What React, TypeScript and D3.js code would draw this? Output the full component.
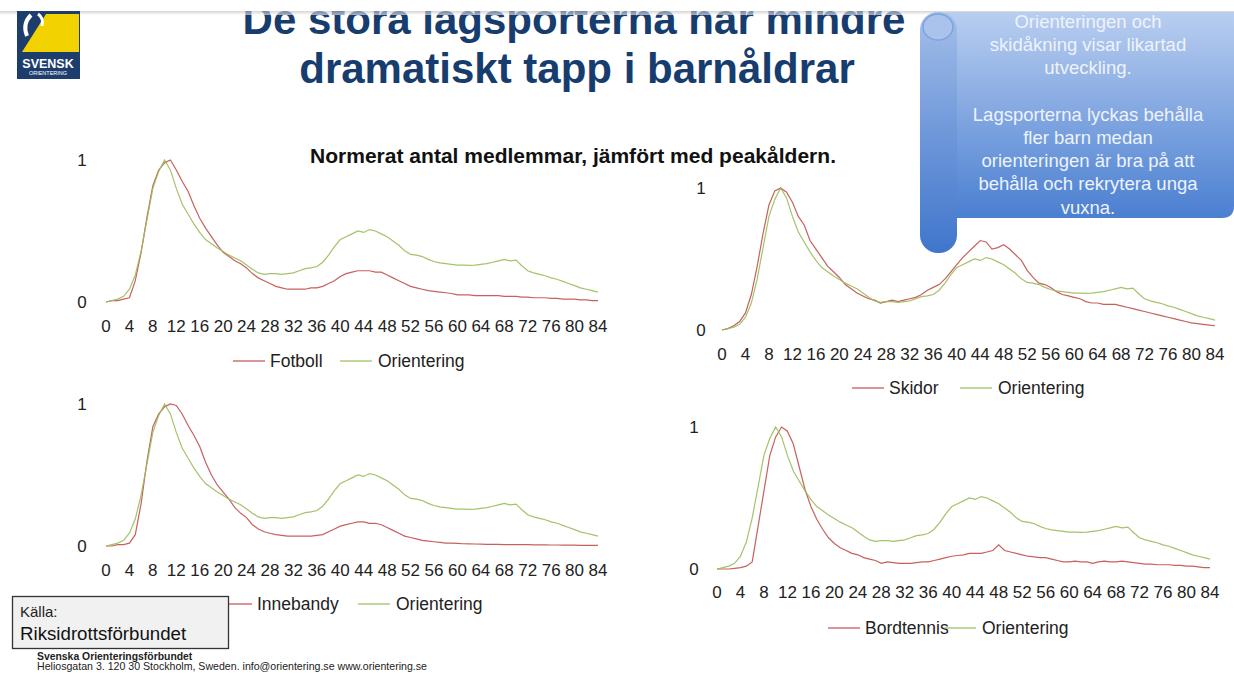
import React from 'react';
import * as d3 from 'd3';

// ages 0..84, one value per year
const ages = d3.range(0, 85);
const tickLabels = [0, 4, 8, 12, 16, 20, 24, 28, 32, 36, 40, 44, 48, 52, 56, 60, 64, 68, 72, 76, 80, 84];
const yTicks = [0, 1];

const orientering = [
  0.0, 0.01, 0.02, 0.04, 0.09, 0.19, 0.36, 0.58, 0.8, 0.92,
  1.0, 0.93, 0.8, 0.69, 0.62, 0.55, 0.49, 0.44, 0.41, 0.38,
  0.355, 0.33, 0.31, 0.29, 0.26, 0.23, 0.205, 0.195, 0.2, 0.2,
  0.195, 0.2, 0.205, 0.22, 0.235, 0.24, 0.25, 0.28, 0.33, 0.39,
  0.44, 0.46, 0.48, 0.5, 0.49, 0.51, 0.5, 0.48, 0.46, 0.43,
  0.4, 0.36, 0.335, 0.33, 0.32, 0.3, 0.285, 0.275, 0.27, 0.265,
  0.26, 0.26, 0.258, 0.26, 0.265, 0.27, 0.28, 0.29, 0.3, 0.29,
  0.295, 0.255, 0.22, 0.205, 0.195, 0.185, 0.17, 0.16, 0.145, 0.13,
  0.115, 0.1, 0.09, 0.08, 0.07,
];

const fotboll = [
  0.0, 0.01, 0.01, 0.02, 0.03, 0.15, 0.35, 0.6, 0.82, 0.93,
  0.98, 1.0, 0.93, 0.85, 0.78, 0.68, 0.59, 0.52, 0.46, 0.4,
  0.35, 0.32, 0.29, 0.27, 0.24, 0.2, 0.17, 0.15, 0.13, 0.11,
  0.1, 0.09, 0.09, 0.09, 0.09, 0.1, 0.1, 0.11, 0.13, 0.15,
  0.18, 0.2, 0.21, 0.22, 0.22, 0.22, 0.21, 0.21, 0.19, 0.17,
  0.15, 0.13, 0.11, 0.1, 0.09, 0.08, 0.075, 0.07, 0.065, 0.06,
  0.05, 0.05, 0.05, 0.045, 0.045, 0.045, 0.045, 0.045, 0.04, 0.04,
  0.04, 0.035, 0.035, 0.03, 0.03, 0.03, 0.025, 0.025, 0.02, 0.02,
  0.02, 0.015, 0.015, 0.01, 0.01,
];

const skidor = [
  0.0, 0.01, 0.03, 0.06, 0.12, 0.25, 0.45, 0.68, 0.88, 0.98,
  1.0, 0.97, 0.9, 0.8, 0.74, 0.63, 0.57, 0.51, 0.45, 0.41,
  0.37, 0.32, 0.29, 0.26, 0.24, 0.22, 0.21, 0.19, 0.2, 0.21,
  0.2, 0.21, 0.22, 0.23, 0.25, 0.28, 0.3, 0.32, 0.36, 0.41,
  0.46, 0.51, 0.55, 0.59, 0.63, 0.62, 0.57, 0.58, 0.6, 0.57,
  0.53, 0.49, 0.42, 0.37, 0.33, 0.32, 0.3, 0.27, 0.25, 0.24,
  0.23, 0.22, 0.2, 0.19, 0.19, 0.18, 0.18, 0.18, 0.17, 0.16,
  0.15, 0.14, 0.13, 0.12, 0.11, 0.1, 0.09, 0.08, 0.07, 0.06,
  0.05, 0.045, 0.04, 0.035, 0.03,
];

const innebandy = [
  0.0, 0.0, 0.01, 0.01, 0.02, 0.08, 0.3, 0.6, 0.84, 0.93,
  0.98, 1.0, 0.99, 0.93, 0.85, 0.78, 0.7, 0.59, 0.5, 0.43,
  0.38, 0.33, 0.27, 0.23, 0.2, 0.15, 0.12, 0.1, 0.09, 0.08,
  0.075, 0.07, 0.07, 0.07, 0.07, 0.07, 0.075, 0.08, 0.1, 0.12,
  0.14, 0.15, 0.16, 0.17, 0.17, 0.16, 0.16, 0.15, 0.13, 0.11,
  0.09, 0.07, 0.06, 0.05, 0.04, 0.035, 0.03, 0.025, 0.02, 0.02,
  0.018, 0.016, 0.015, 0.014, 0.013, 0.012, 0.012, 0.011, 0.01, 0.01,
  0.01, 0.009, 0.009, 0.008, 0.008, 0.008, 0.007, 0.007, 0.006, 0.006,
  0.006, 0.005, 0.005, 0.005, 0.005,
];

const bordtennis = [
  0.0, 0.0, 0.0, 0.005, 0.01, 0.02, 0.05, 0.3, 0.55, 0.8,
  0.93, 1.0, 0.97, 0.88, 0.72, 0.56, 0.44, 0.35, 0.28, 0.22,
  0.18, 0.15, 0.13, 0.11, 0.1, 0.08, 0.07, 0.06, 0.04, 0.05,
  0.045, 0.04, 0.04, 0.04, 0.045, 0.05, 0.05, 0.06, 0.07, 0.08,
  0.09, 0.095, 0.1, 0.11, 0.11, 0.11, 0.12, 0.13, 0.17, 0.13,
  0.12, 0.11, 0.1, 0.09, 0.085, 0.08, 0.08, 0.07, 0.06, 0.05,
  0.05, 0.055, 0.05, 0.05, 0.04, 0.05, 0.055, 0.05, 0.05, 0.055,
  0.05, 0.045, 0.04, 0.035, 0.035, 0.03, 0.03, 0.03, 0.025, 0.025,
  0.02, 0.02, 0.015, 0.01, 0.01,
];

const calloutLines = [
  'Orienteringen och',
  'skidåkning visar likartad',
  'utveckling.',
  '',
  'Lagsporterna lyckas behålla',
  'fler barn medan',
  'orienteringen är bra på att',
  'behålla och rekrytera  unga',
  'vuxna.',
];

const RED = '#c0504d';
const GREEN = '#9bbb59';
const FONT = '"Liberation Sans", Arial, sans-serif';

const panels = [
  { name: 'Fotboll', values: fotboll, x0: 106, x1: 598, y0: 302, y1: 160, labelX: 82, tickY: 332, legY: 361, legX: 233, leg2X: 340 },
  { name: 'Skidor', values: skidor, x0: 722, x1: 1215, y0: 330, y1: 188, labelX: 701, tickY: 360, legY: 388, legX: 852, leg2X: 960 },
  { name: 'Innebandy', values: innebandy, x0: 106, x1: 598, y0: 546, y1: 404, labelX: 82, tickY: 576, legY: 604, legX: 220, leg2X: 358 },
  { name: 'Bordtennis', values: bordtennis, x0: 717, x1: 1210, y0: 569, y1: 427, labelX: 694, tickY: 598, legY: 628, legX: 828, leg2X: 944 },
];

const Panel = ({ p }) => {
  const x = d3.scaleLinear().domain([0, 84]).range([p.x0, p.x1]);
  const y = d3.scaleLinear().domain([0, 1]).range([p.y0, p.y1]);
  const line = d3.line<number>().x((_, i) => x(ages[i])).y((d) => y(d));
  return (
    <g fontFamily={FONT} fill="#222">
      {yTicks.map((t) => (
        <text key={t} x={p.labelX} y={y(t) + 6} fontSize={17} textAnchor="middle">{t}</text>
      ))}
      {tickLabels.map((t) => (
        <text key={t} x={x(t)} y={p.tickY} fontSize={17} textAnchor="middle">{t}</text>
      ))}
      <path d={line(p.values) || ''} fill="none" stroke={RED} strokeWidth={1.2} strokeOpacity={0.9} />
      <path d={line(orientering) || ''} fill="none" stroke={GREEN} strokeWidth={1.2} strokeOpacity={0.9} />
      <line x1={p.legX} x2={p.legX + 32} y1={p.legY} y2={p.legY} stroke={RED} strokeWidth={1.2} />
      <text x={p.legX + 37} y={p.legY + 6} fontSize={17.5}>{p.name}</text>
      <line x1={p.leg2X} x2={p.leg2X + 32} y1={p.legY} y2={p.legY} stroke={GREEN} strokeWidth={1.2} />
      <text x={p.leg2X + 38} y={p.legY + 6} fontSize={17.5}>Orientering</text>
    </g>
  );
};

export default function App() {
  return (
    <svg width={1234} height={673} style={{ position: 'fixed', left: 0, top: 0, background: '#fff' }}>
      <defs>
        <linearGradient id="panelGrad" x1="0" y1="0" x2="0" y2="1">
          <stop offset="0" stopColor="#b9cef0" />
          <stop offset="1" stopColor="#4a7fd1" />
        </linearGradient>
        <linearGradient id="rollGrad" x1="0" y1="0" x2="0" y2="1">
          <stop offset="0" stopColor="#a4bfe9" />
          <stop offset="0.5" stopColor="#6f98da" />
          <stop offset="1" stopColor="#3f76cb" />
        </linearGradient>
        <linearGradient id="shadow" x1="0" y1="0" x2="0" y2="1">
          <stop offset="0" stopColor="#b8b8b8" />
          <stop offset="1" stopColor="#ffffff" />
        </linearGradient>
      </defs>
      <rect width={1234} height={673} fill="#fff" />

      {/* title, top line is clipped by the band above */}
      <g fontFamily={FONT} fontWeight="bold" fill="#173c6e" fontSize={42} textAnchor="middle">
        <text x={574} y={34}>De stora lagsporterna når mindre</text>
        <text x={577} y={83}>dramatiskt tapp i barnåldrar</text>
      </g>
      <rect x={0} y={0} width={1234} height={11} fill="#fff" />
      <rect x={0} y={11} width={1234} height={4} fill="url(#shadow)" opacity={0.6} />

      {/* logo */}
      <g>
        <rect x={17} y={11} width={63} height={68} fill="#1d3d6c" />
        <polygon points="22,52 46,14 79,14 79,52" fill="#f2d200" />
        <path d="M31,15 Q22,24 27,36" fill="none" stroke="#fff" strokeWidth={4} />
        <path d="M38,14 Q44,18 42,26" fill="none" stroke="#fff" strokeWidth={3} />
        <text x={48} y={68} fontFamily={FONT} fontWeight="bold" fontSize={12.5} fill="#fff" textAnchor="middle">SVENSK</text>
        <text x={48} y={75} fontFamily={FONT} fontSize={5.5} fill="#fff" textAnchor="middle">ORIENTERING</text>
      </g>

      <text x={310} y={163} fontFamily={FONT} fontWeight="bold" fontSize={19.5} fill="#111" textLength={526} lengthAdjust="spacingAndGlyphs">
        Normerat antal medlemmar, jämfört med peakåldern.
      </text>

      {panels.map((p) => <Panel key={p.name} p={p} />)}

      {/* callout scroll */}
      <g>
        <path d="M945,12 H1234 V206 Q1234,218 1222,218 H945 Z" fill="url(#panelGrad)" />
        <rect x={920} y={12} width={37} height={241} rx={18} fill="url(#rollGrad)" />
        <ellipse cx={938} cy={27} rx={15} ry={13} fill="#a9c3ec" stroke="#7fa2dd" strokeWidth={1.5} />
        <g fontFamily={FONT} fontSize={18.5} fill="#eef3fb" textAnchor="middle">
          {calloutLines.map((t, i) => (
            <text key={i} x={1088} y={28 + i * 23.2}>{t}</text>
          ))}
        </g>
      </g>

      {/* source box */}
      <rect x={12.5} y={596.5} width={216} height={52} fill="#f1f1f1" stroke="#333" strokeWidth={1.3} />
      <text x={20} y={617} fontFamily={FONT} fontSize={15} fill="#222">Källa:</text>
      <text x={20} y={640} fontFamily={FONT} fontSize={18.7} fill="#111">Riksidrottsförbundet</text>

      <text x={37} y={660} fontFamily={FONT} fontWeight="bold" fontSize={10.4} fill="#222">Svenska Orienteringsförbundet</text>
      <text x={37} y={670} fontFamily={FONT} fontSize={10.6} fill="#222">Heliosgatan 3. 120 30 Stockholm, Sweden. info@orientering.se www.orientering.se</text>
    </svg>
  );
}
